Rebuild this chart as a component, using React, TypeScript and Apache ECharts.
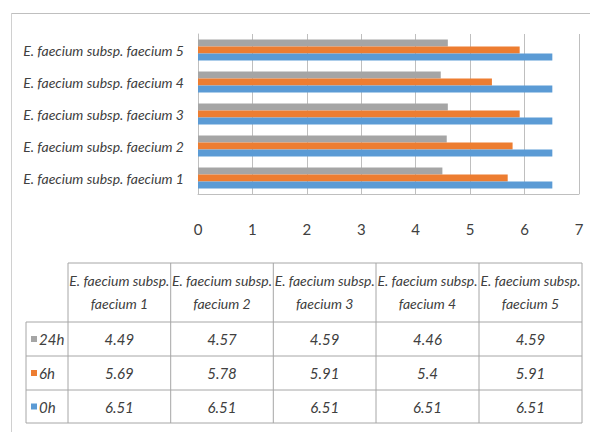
import React, { useEffect, useRef } from "react";
import * as echarts from "echarts";

const categories = [
  "E. faecium subsp. faecium 1",
  "E. faecium subsp. faecium 2",
  "E. faecium subsp. faecium 3",
  "E. faecium subsp. faecium 4",
  "E. faecium subsp. faecium 5",
];
const headerLine1 = ["E. faecium subsp.", "E. faecium subsp.", "E. faecium subsp.", "E. faecium subsp.", "E. faecium subsp."];
const headerLine2 = ["faecium 1", "faecium 2", "faecium 3", "faecium 4", "faecium 5"];
const seriesNames = ["24h", "6h", "0h"];
const values24h = [4.49, 4.57, 4.59, 4.46, 4.59];
const values6h = [5.69, 5.78, 5.91, 5.4, 5.91];
const values0h = [6.51, 6.51, 6.51, 6.51, 6.51];
const colors = ["#A5A5A5", "#ED7D31", "#5B9BD5"];
const xTicks = [0, 1, 2, 3, 4, 5, 6, 7];

const FONT = "Lato, 'Noto Sans', sans-serif";

export default function App() {
  const ref = useRef<HTMLDivElement>(null);
  useEffect(() => {
    if (!ref.current) return;
    const chart = echarts.init(ref.current, undefined, { renderer: "svg" });
    const allValues = [values24h, values6h, values0h];

    // table layout
    const colX = [68, 170.7, 273.3, 376, 479, 582];
    const rowLabelX = 26;
    const headTop = 263;
    const rowY = [322, 356, 390, 423];
    const lineColor = "#A6A6A6";
    const g: any[] = [];
    const ln = (x1: number, y1: number, x2: number, y2: number, c = lineColor) =>
      g.push({ type: "line", shape: { x1, y1, x2, y2 }, style: { stroke: c, lineWidth: 1 }, silent: true });

    // frame
    ln(11, 13.5, 590, 13.5, "#BFBFBF");
    ln(11.5, 13, 11.5, 432, "#D0D0D0");

    // table lines
    ln(colX[0], headTop, colX[5], headTop);
    for (const x of colX) ln(x, headTop, x, rowY[3]);
    ln(rowLabelX, rowY[0], rowLabelX, rowY[3]);
    for (const y of rowY) ln(rowLabelX, y, colX[5], y);

    const txt = (text: string, x: number, y: number, align = "center", size = 14, italic = true, fill = "#404040") =>
      g.push({
        type: "text",
        x,
        y,
        silent: true,
        style: { text, fill, font: `${italic ? "italic " : ""}${size}px ${FONT}`, align, verticalAlign: "middle" },
      });

    for (let i = 0; i < categories.length; i++) {
      const cx = (colX[i] + colX[i + 1]) / 2;
      txt(headerLine1[i], cx, 280);
      txt(headerLine2[i], cx, 303);
      for (let r = 0; r < 3; r++) {
        txt(String(allValues[r][i]), cx, (rowY[r] + rowY[r + 1]) / 2, "center", 15);
      }
    }
    for (let r = 0; r < 3; r++) {
      const cy = (rowY[r] + rowY[r + 1]) / 2;
      g.push({ type: "rect", shape: { x: 31, y: cy - 3, width: 6, height: 6 }, style: { fill: colors[r] }, silent: true });
      txt(seriesNames[r], 39, cy, "left", 15);
    }

    chart.setOption({
      animation: false,
      backgroundColor: "#ffffff",
      grid: { left: 198, right: 11, top: 34, bottom: 238 },
      xAxis: {
        type: "value",
        min: xTicks[0],
        max: xTicks[xTicks.length - 1],
        interval: 1,
        axisLine: { show: true, lineStyle: { color: "#BFBFBF" } },
        axisTick: { show: false },
        splitLine: { show: true, lineStyle: { color: "#BFBFBF" } },
        axisLabel: { color: "#404040", fontSize: 15, fontFamily: FONT, margin: 27 },
      },
      yAxis: {
        type: "category",
        data: categories,
        axisLine: { show: true, lineStyle: { color: "#BFBFBF" } },
        axisTick: { show: false },
        axisLabel: { color: "#404040", fontSize: 14, fontStyle: "italic", fontFamily: FONT, margin: 14 },
      },
      series: seriesNames.map((name, i) => ({
        name,
        type: "bar",
        data: allValues[i],
        barWidth: 7,
        barGap: "0%",
        itemStyle: { color: colors[i] },
      })),
      graphic: g,
    });
    return () => chart.dispose();
  }, []);
  return <div ref={ref} style={{ position: "fixed", left: 0, top: 0, width: 590, height: 432 }} />;
}
